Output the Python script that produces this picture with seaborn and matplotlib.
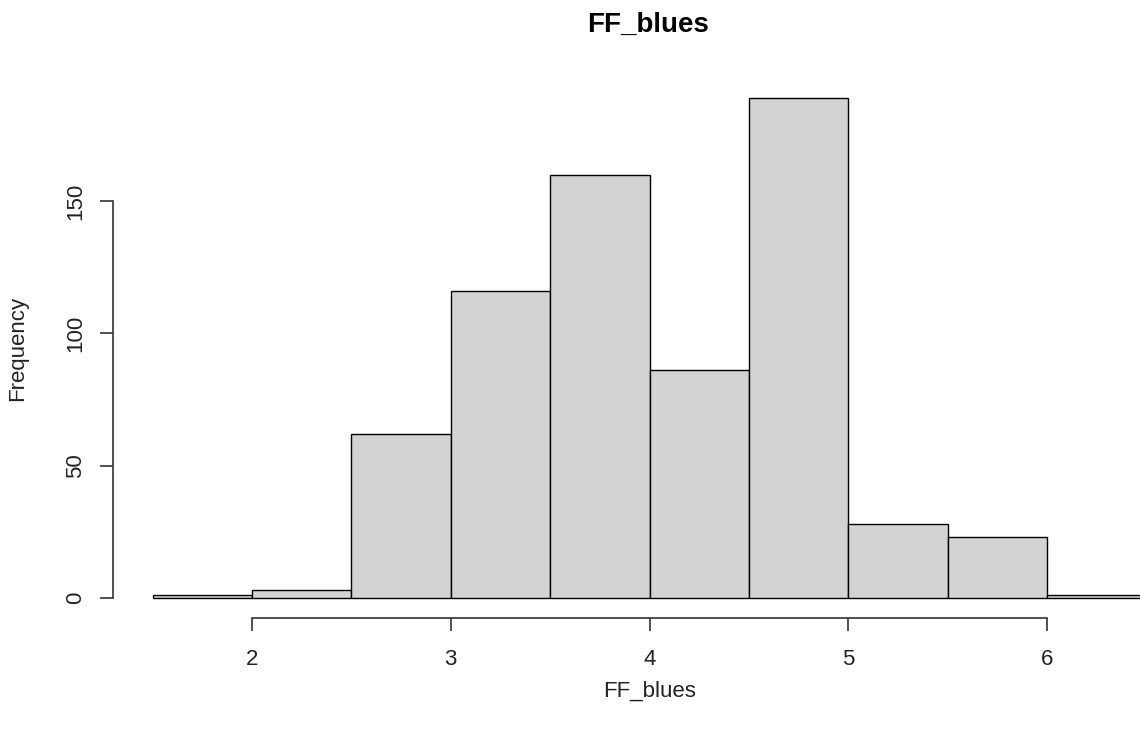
import numpy as np
import matplotlib
matplotlib.use("Agg")
import matplotlib.pyplot as plt
import seaborn as sns

# Data
bin_edges = [1.5, 2.0, 2.5, 3.0, 3.5, 4.0, 4.5, 5.0, 5.5, 6.0, 6.5]
counts = [1, 3, 62, 116, 160, 86, 189, 28, 23, 1]
x_ticks = [2, 3, 4, 5, 6]
y_ticks = [0, 50, 100, 150]
title = "FF_blues"
x_label = "FF_blues"
y_label = "Frequency"

sns.set_style("white")
plt.rcParams["font.family"] = ["Liberation Sans", "DejaVu Sans"]

fig = plt.figure(figsize=(11.4, 7.38), dpi=100)
ax = fig.add_axes([113 / 1140, 120 / 738, 1073 / 1140, 540 / 738])

centers = [(a + b) / 2 for a, b in zip(bin_edges[:-1], bin_edges[1:])]
sns.histplot(x=centers, weights=counts, bins=bin_edges, ax=ax,
             color="#D3D3D3", edgecolor="black", linewidth=1.0, alpha=1.0)

ax.set_xlim(1.3, 6.7)
ax.set_ylim(-0.04 * 189, 189 * 1.04)

for s in ["top", "right"]:
    ax.spines[s].set_visible(False)
ax.spines["left"].set_bounds(0, 150)
ax.spines["bottom"].set_bounds(2, 6)
for s in ["left", "bottom"]:
    ax.spines[s].set_color("#333333")
    ax.spines[s].set_linewidth(1.2)

ax.set_xticks(x_ticks)
ax.set_xticklabels([str(t) for t in x_ticks])
ax.set_yticks(y_ticks)
ax.set_yticklabels([str(t) for t in y_ticks], rotation=90, va="center")
ax.tick_params(axis="both", direction="out", length=9.5, width=1.2,
               bottom=True, left=True,
               color="#333333", labelsize=16, labelcolor="#222222")
ax.tick_params(axis="x", pad=13)
ax.tick_params(axis="y", pad=10)

ax.set_xlabel(x_label, fontsize=16, color="#222222", va="center")
ax.xaxis.set_label_coords(0.5, (618 - 691) / 540)
ax.set_ylabel(y_label, fontsize=16, color="#222222", va="center")
ax.yaxis.set_label_coords((18 - 113) / 1073, 0.5)

fig.text(648 / 1140, 1 - 25 / 738, title, ha="center", va="center",
         fontsize=20, fontweight="bold", color="black")

fig.savefig("out.png", dpi=100)
